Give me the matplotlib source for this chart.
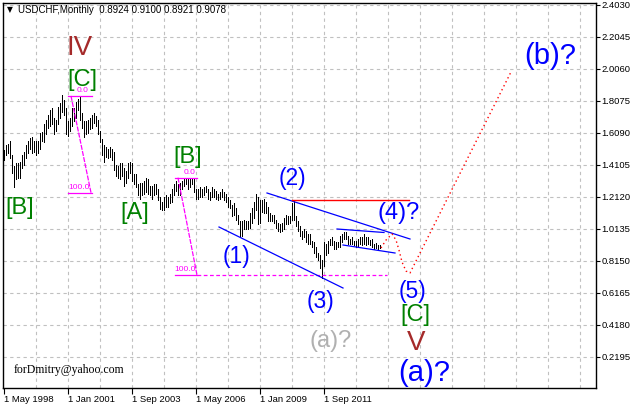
import numpy as np
import matplotlib
matplotlib.use('Agg')
import matplotlib.pyplot as plt

plt.rcParams['font.family'] = ['Liberation Sans', 'DejaVu Sans']

# monthly bars, May 1998 .. Jan 2014 (index 0 = May 1998)
highs = [
    1.500, 1.530, 1.540, 1.555, 1.470, 1.400, 1.420, 1.420,
    1.430, 1.470, 1.490, 1.530, 1.560, 1.575, 1.580, 1.560, 1.555, 1.560, 1.610, 1.615,
    1.660, 1.690, 1.720, 1.750, 1.760, 1.700, 1.690, 1.770, 1.795, 1.840, 1.810, 1.760,
    1.680, 1.700, 1.760, 1.760, 1.800, 1.820, 1.830, 1.730, 1.680, 1.680, 1.690, 1.700,
    1.720, 1.730, 1.710, 1.690, 1.620, 1.570, 1.530, 1.520, 1.510, 1.520, 1.510, 1.490,
    1.410, 1.400, 1.420, 1.420, 1.390, 1.370, 1.420, 1.430, 1.420, 1.350, 1.350, 1.290,
    1.300, 1.300, 1.310, 1.330, 1.320, 1.280, 1.280, 1.290, 1.290, 1.260, 1.210, 1.180,
    1.210, 1.220, 1.210, 1.230, 1.260, 1.290, 1.310, 1.290, 1.300, 1.310, 1.330, 1.325,
    1.320, 1.330, 1.330, 1.320, 1.260, 1.260, 1.270, 1.260, 1.270, 1.280, 1.260, 1.240,
    1.270, 1.260, 1.250, 1.230, 1.240, 1.260, 1.240, 1.230, 1.210, 1.190, 1.160, 1.170,
    1.140, 1.100, 1.060, 1.060, 1.070, 1.060, 1.060, 1.110, 1.140, 1.180, 1.230, 1.210,
    1.190, 1.190, 1.200, 1.180, 1.150, 1.110, 1.100, 1.100, 1.070, 1.050, 1.040, 1.050,
    1.080, 1.100, 1.090, 1.090, 1.170, 1.190, 1.090, 1.060, 1.030, 1.000, 1.010, 1.000,
    0.980, 0.980, 0.940, 0.930, 0.900, 0.860, 0.850, 0.820, 0.930, 0.920, 0.940, 0.950,
    0.960, 0.940, 0.930, 0.930, 0.970, 0.980, 0.995, 0.990, 0.970, 0.950, 0.960, 0.935,
    0.940, 0.950, 0.960, 0.960, 0.980, 0.965, 0.960, 0.945, 0.950, 0.920, 0.925, 0.915,
    0.910,
]
lows = [
    1.440, 1.470, 1.480, 1.450, 1.360, 1.272, 1.320, 1.330,
    1.330, 1.390, 1.410, 1.450, 1.480, 1.510, 1.480, 1.490, 1.470, 1.480, 1.510, 1.560,
    1.550, 1.600, 1.640, 1.650, 1.660, 1.600, 1.620, 1.660, 1.700, 1.740, 1.720, 1.600,
    1.590, 1.620, 1.650, 1.680, 1.700, 1.750, 1.690, 1.640, 1.580, 1.600, 1.610, 1.630,
    1.640, 1.670, 1.650, 1.600, 1.550, 1.470, 1.430, 1.460, 1.450, 1.460, 1.440, 1.380,
    1.340, 1.330, 1.320, 1.340, 1.280, 1.300, 1.330, 1.360, 1.310, 1.290, 1.270, 1.220,
    1.200, 1.220, 1.230, 1.240, 1.230, 1.220, 1.200, 1.220, 1.230, 1.190, 1.135, 1.130,
    1.130, 1.150, 1.150, 1.170, 1.180, 1.220, 1.250, 1.220, 1.220, 1.260, 1.280, 1.290,
    1.260, 1.270, 1.290, 1.240, 1.200, 1.200, 1.210, 1.210, 1.220, 1.240, 1.200, 1.190,
    1.210, 1.210, 1.200, 1.190, 1.200, 1.210, 1.190, 1.180, 1.150, 1.140, 1.090, 1.100,
    1.070, 1.040, 0.965, 0.970, 1.010, 1.010, 1.010, 1.020, 1.050, 1.080, 1.130, 1.040,
    1.050, 1.120, 1.110, 1.110, 1.060, 1.060, 1.060, 1.050, 1.020, 1.000, 0.990, 1.000,
    1.010, 1.040, 1.040, 1.050, 1.070, 1.070, 1.030, 1.000, 0.970, 0.950, 0.960, 0.930,
    0.920, 0.920, 0.900, 0.860, 0.840, 0.820, 0.770, 0.708, 0.780, 0.850, 0.860, 0.910,
    0.910, 0.890, 0.890, 0.900, 0.900, 0.930, 0.950, 0.950, 0.920, 0.920, 0.920, 0.910,
    0.900, 0.900, 0.920, 0.910, 0.920, 0.910, 0.920, 0.910, 0.900, 0.890, 0.895, 0.880,
    0.892,
]

xtick_pos = [0, 32, 64, 96, 128, 160]
xtick_labels = ['1 May 1998', '1 Jan 2001', '1 Sep 2003', '1 May 2006', '1 Jan 2009', '1 Sep 2011']
ytick_vals = [0.2195, 0.4180, 0.6165, 0.8150, 1.0135, 1.2120, 1.4105, 1.6090,
              1.8075, 2.0060, 2.2045, 2.4030]

# fibo levels (month, price)
fib1_top, fib1_bot, fib1_x = 1.837, 1.237, (32, 44)
fib2_top, fib2_bot, fib2_x = 1.330, 0.726, (85.5, 96.5)

# trend lines
chan_low = ([107.5, 169.5], [1.024, 0.6456])
chan_up = ([131.5, 203], [1.235, 0.9496])
tri_up = ([166.5, 190], [1.0116, 0.990])
tri_low = ([169.5, 195.5], [0.9124, 0.8628])
red_level = ([144, 202.5], [1.1915, 1.1915])
forecast_x = [188.5, 191, 194, 196, 197.5, 199, 201, 203, 253.5]
forecast_y = [0.894, 0.943, 0.981, 0.943, 0.881, 0.807, 0.751, 0.739, 1.986]

# wave labels: text, month, price, colour, size
waves = [
    ('IV', 38, 2.134, '#a52a2a', 20),
    ('[C]', 39, 1.936, '#008000', 17),
    ('[B]', 8, 1.142, '#008000', 17),
    ('[A]', 65.5, 1.111, '#008000', 17),
    ('[B]', 92, 1.458, '#008000', 17),
    ('(1)', 116, 0.844, '#0000ff', 16.5),
    ('(2)', 144, 1.328, '#0000ff', 16.5),
    ('(3)', 158.5, 0.559, '#0000ff', 16.5),
    ('(a)?', 163.5, 0.317, '#b0b0b0', 17),
    ('(4)?', 197.5, 1.111, '#0000ff', 17),
    ('(5)', 204.5, 0.627, '#0000ff', 16.5),
    ('[C]', 205.5, 0.478, '#008000', 17),
    ('V', 206, 0.305, '#a52a2a', 20),
    ('(a)?', 210, 0.118, '#0000ff', 21),
    ('(b)?', 273, 2.085, '#0000ff', 21),
]

fig = plt.figure(figsize=(6.35, 4.05), dpi=100)
ax = fig.add_axes([3 / 635, 17 / 405, 593 / 635, 385 / 405])
ax.set_xlim(-0.5, 296)
ax.set_ylim(0.0254, 2.4135)

# grid
for m in range(16, 290, 16):
    ax.axvline(m, color='#c0c0c0', lw=0.8, ls=(0, (3, 3)), zorder=0)
for v in ytick_vals:
    ax.axhline(v, color='#c0c0c0', lw=0.8, ls=(0, (3, 3)), zorder=0)

# price bars
idx = np.arange(len(highs))
ax.vlines(idx, lows, highs, color='black', lw=0.72, antialiased=False, zorder=2)

# fibo retracements
mag = '#ff00ff'
ax.plot(fib1_x, [fib1_top, fib1_top], color=mag, lw=0.9)
ax.plot(fib1_x, [fib1_bot, fib1_bot], color=mag, lw=0.9)
ax.plot([33.5, 43.5], [fib1_top, fib1_bot], color=mag, lw=0.9, ls=(0, (4, 1)))
ax.text(39.5, fib1_top + 0.012, '0.0', color=mag, fontsize=6, ha='center', va='bottom')
ax.text(37.5, fib1_bot + 0.012, '100.0', color=mag, fontsize=6, ha='center', va='bottom')

ax.plot(fib2_x, [fib2_top, fib2_top], color=mag, lw=0.9)
ax.plot(fib2_x, [fib2_bot, fib2_bot], color=mag, lw=0.9)
ax.plot([87, 96.5], [fib2_top, fib2_bot], color=mag, lw=0.9, ls=(0, (4, 1)))
ax.plot([96.5, 191.5], [fib2_bot, fib2_bot], color=mag, lw=0.9, ls=(0, (3, 2)))
ax.text(93, fib2_top + 0.012, '0.0', color=mag, fontsize=6, ha='center', va='bottom')
ax.text(90.5, fib2_bot + 0.012, '100.0', color=mag, fontsize=6, ha='center', va='bottom')

# channels
for xs, ys in [chan_low, chan_up, tri_up, tri_low]:
    ax.plot(xs, ys, color='#0000ff', lw=0.9, zorder=3)
ax.plot(*red_level, color='#ff0000', lw=1.0, zorder=3)
ax.plot(forecast_x, forecast_y, color='#ff0000', lw=1.0, ls=(0, (1, 2.2)), zorder=3)

for txt, m, p, col, sz in waves:
    ax.text(m, p, txt, color=col, fontsize=sz, ha='center', va='center', zorder=4)

ax.text(5, 0.137, 'forDmitry@yahoo.com', family='Liberation Serif', fontsize=8.5,
        ha='left', va='center', color='black')

# axes styling
for s in ax.spines.values():
    s.set_color('black')
    s.set_linewidth(1.0)
ax.yaxis.tick_right()
ax.set_yticks(ytick_vals)
ax.set_yticklabels(['%.4f' % v for v in ytick_vals])
ax.set_xticks(xtick_pos)
ax.set_xticklabels(xtick_labels, ha='left')
ax.tick_params(axis='y', direction='out', length=3, width=0.8, labelsize=6.8, pad=1)
ax.tick_params(axis='x', direction='out', length=4, width=0.8, labelsize=6.8, pad=1)

fig.text(7 / 635, 1 - 10 / 405, '\u25bc', fontsize=5.5, va='center', ha='left',
         family='DejaVu Sans')
fig.text(18 / 635, 1 - 10 / 405, 'USDCHF,Monthly  0.8924 0.9100 0.8921 0.9078',
         fontsize=7, va='center', ha='left')

fig.savefig('out.png', dpi=100)
